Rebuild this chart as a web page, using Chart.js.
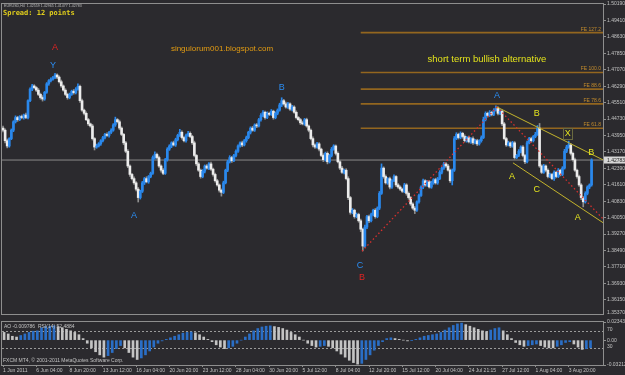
<!DOCTYPE html>
<html>
<head>
<meta charset="utf-8">
<title>EURUSD H4</title>
<script src="https://cdn.jsdelivr.net/npm/chart.js@4.4.1/dist/chart.umd.min.js"></script>
<style>
  html, body { margin: 0; padding: 0; background: #2b2a2e; }
  #wrap { position: relative; width: 625px; height: 375px; overflow: hidden; background: #2b2a2e; }
  #priceBox { position: absolute; left: 0; top: 0; width: 625px; height: 318px; }
  #aoBox { position: absolute; left: 0; top: 318px; width: 625px; height: 57px; }
</style>
</head>
<body>
<div id="wrap">
  <div id="priceBox"><canvas id="priceCanvas"></canvas></div>
  <div id="aoBox"><canvas id="aoCanvas"></canvas></div>
</div>
<script>
// EURUSD H4, 1 Jun - 4 Aug 2011. prices in points over 1.0000 (4420 = 1.4420)
var firstOpen = 4430;
var closes = [
  4420,4370,4345,4380,4420,4460,4480,4470,4485,4480,4492,4480,4560,4615,4630,4622,
  4610,4590,4575,4568,4600,4640,4655,4662,4670,4682,4672,4650,4630,4610,4590,4575,
  4590,4605,4598,4615,4628,4560,4515,4500,4470,4450,4440,4380,4340,4345,4355,4370,
  4385,4400,4395,4410,4420,4445,4470,4460,4430,4400,4360,4320,4250,4210,4190,4170,
  4140,4100,4130,4170,4190,4175,4200,4215,4290,4305,4290,4250,4230,4215,4280,4330,
  4345,4360,4350,4375,4395,4410,4385,4370,4395,4405,4390,4360,4300,4260,4230,4200,
  4225,4250,4240,4260,4235,4210,4180,4160,4135,4125,4170,4230,4270,4290,4275,4300,
  4320,4345,4360,4350,4370,4385,4410,4430,4420,4445,4440,4470,4490,4505,4480,4500,
  4495,4510,4480,4500,4515,4540,4560,4545,4530,4545,4520,4530,4505,4480,4470,4455,
  4450,4470,4440,4420,4380,4350,4340,4355,4330,4300,4280,4310,4270,4300,4330,4345,
  4310,4270,4240,4220,4230,4190,4100,4030,4040,4010,4020,3990,3950,3870,3960,4010,
  3990,4020,4040,4010,4050,4120,4240,4200,4170,4190,4150,4180,4200,4160,4150,4140,
  4130,4160,4120,4100,4070,4050,4040,4080,4110,4150,4180,4160,4175,4150,4170,4185,
  4170,4190,4220,4240,4260,4250,4230,4180,4230,4380,4400,4385,4405,4390,4370,4385,
  4365,4380,4360,4370,4355,4370,4385,4470,4500,4490,4505,4495,4515,4525,4500,4510,
  4450,4380,4350,4360,4345,4360,4290,4300,4320,4340,4300,4270,4360,4380,4370,4390,
  4400,4430,4250,4220,4250,4230,4200,4210,4190,4220,4200,4230,4210,4240,4320,4340,
  4350,4310,4280,4230,4200,4160,4100,4080,4120,4150,4160,4278.3
];
// wick beyond the body, in points
var hiPad = [
  10,6,8,4,6,5,8,6,4,7,5,9,4,6,8,6,
  5,8,6,9,4,6,5,7,6,8,5,6,8,5,7,6,
  6,5,8,7,12,6,8,5,7,6,4,8,5,9,6,5,
  6,5,8,4,7,6,12,5,8,6,5,7,8,6,5,9,
  6,8,5,7,6,9,5,6,8,12,6,7,5,8,6,7,
  6,5,8,7,6,14,7,5,6,9,7,6,8,5,7,6,
  8,5,7,6,8,5,6,7,5,6,8,5,7,9,6,5,
  7,6,5,8,6,7,5,6,8,5,7,6,9,8,6,7,
  6,8,5,7,6,8,14,6,8,7,5,8,6,7,5,6,
  8,6,7,5,6,8,5,7,6,5,8,6,7,5,8,6,
  5,7,6,8,5,7,9,6,8,5,7,6,8,5,9,6,
  7,6,5,8,6,9,20,6,8,5,7,6,8,5,7,6,
  5,8,6,7,5,6,8,5,7,6,8,5,7,6,8,5,
  7,6,8,5,7,6,8,5,6,10,8,6,7,5,8,6,
  7,5,8,6,7,5,8,12,7,6,8,5,7,11,6,8,
  5,7,6,8,5,7,6,5,8,6,7,5,8,6,7,5,
  10,12,22,6,8,5,7,6,5,7,6,8,5,7,9,8,
  18,7,6,8,5,7,6,5,8,6,5,6
];
var loPad = [
  8,10,9,6,5,7,6,8,5,6,8,5,6,5,7,6,
  7,6,8,10,6,5,7,6,5,6,8,6,7,5,6,8,
  6,5,7,6,5,8,6,7,5,8,6,7,14,6,5,7,
  6,7,5,8,6,5,7,6,8,6,9,7,8,10,6,7,
  8,21,7,6,8,5,7,6,5,8,6,7,9,6,5,7,
  6,8,5,7,6,5,8,6,7,5,6,8,7,9,6,8,
  6,8,5,7,6,8,7,6,9,18,6,5,7,6,8,5,
  7,5,6,8,5,7,6,8,5,6,8,5,7,6,8,5,
  6,5,8,6,7,5,8,6,5,7,6,8,5,7,6,8,
  5,7,6,8,6,9,7,5,8,6,9,7,10,6,7,5,
  8,6,7,5,8,6,10,9,7,8,6,7,12,23,6,8,
  9,6,7,8,6,7,5,8,6,7,9,6,5,8,6,7,
  6,7,9,8,7,6,16,6,7,5,8,6,7,5,6,7,
  6,7,5,8,6,7,5,8,20,6,5,7,6,8,6,7,
  6,8,7,5,8,6,7,5,6,8,5,7,6,5,7,6,
  8,6,7,5,8,6,7,5,6,8,7,9,6,5,7,6,
  6,5,7,6,5,8,7,6,5,8,6,5,7,6,5,7,
  6,8,7,6,8,7,10,24,6,7,8,6
];
var lastPrice = 1.42783;

// Awesome Oscillator, one value per two bars, in points
var aoValues = [
  100,80,50,40,60,80,100,115,120,160,175,180,185,175,160,140,
  120,100,70,20,-40,-100,-150,-190,-220,-200,-160,-110,-70,-100,-160,-220,
  -250,-230,-190,-140,-90,-40,-10,10,30,50,70,90,100,105,95,70,
  40,10,-20,-60,-90,-110,-100,-80,-40,0,40,80,120,150,170,180,
  185,175,165,150,130,100,70,40,0,-40,-70,-90,-80,-70,-80,-100,
  -140,-180,-220,-260,-290,-310,-300,-250,-190,-130,-70,-20,20,30,20,10,
  0,-10,-5,10,30,50,60,70,80,100,130,160,190,210,220,200,
  180,160,140,120,110,130,150,160,120,70,20,-30,-60,-80,-70,-60,
  -50,-70,-90,-100,-100,-80,-60,-30,-20,-50,-90,-120,-110,-98
];
// RSI(14), one value per two bars
var rsiValues = [
  72,64,66,70,74,76,78,76,72,69,71,74,76,70,66,62,
  60,56,48,42,36,31,28,34,44,50,53,55,48,38,28,23,
  27,36,44,40,50,54,50,55,58,60,58,57,59,55,45,36,
  44,50,42,34,30,40,48,52,58,62,66,68,70,72,74,75,
  76,72,70,67,63,61,60,58,50,44,40,36,32,33,38,40,
  38,34,30,28,22,17,15,30,40,48,56,58,55,54,50,46,
  42,40,44,50,53,55,57,58,60,62,60,66,75,70,66,64,
  66,68,70,69,72,75,76,70,48,44,45,42,46,50,52,54,
  55,40,36,38,36,40,45,56,55,45,38,33,38,52.49
];

var dateBars = [0,16,32,48,64,80,96,112,128,144,160,176,192,208,224,240,256,272];
var dateLabels = ['1 Jun 2011','6 Jun 04:00','8 Jun 20:00','13 Jun 12:00','16 Jun 04:00','20 Jun 20:00',
  '23 Jun 12:00','28 Jun 04:00','30 Jun 20:00','5 Jul 12:00','8 Jul 04:00','12 Jul 20:00',
  '15 Jul 12:00','20 Jul 04:00','24 Jul 21:15','27 Jul 12:00','1 Aug 04:00','3 Aug 20:00'];
var priceTicks = ['1.50190','1.49410','1.48630','1.47850','1.47070','1.46290','1.45510','1.44730',
  '1.43950','1.43170','1.42390','1.41610','1.40830','1.40050','1.39270','1.38490','1.37710',
  '1.36930','1.36150','1.35370'];
var aoTicks = [0.023434, 0, -0.032123];

// fibonacci expansion levels
var fibNames = ['FE 127.2','FE 100.0','FE 88.6','FE 78.6','FE 61.8'];
var fibLevels = [1.4883, 1.4694, 1.4615, 1.4545, 1.4429];
var fibFromBar = 172;

// wave marks: text, bar, price, degree
var waveText = ['A','Y','A','B','C','B','A','B','A','C','X','A','B'];
var waveBar = [25, 24, 63, 134, 171.6, 172.6, 237.5, 256.7, 244.7, 256.7, 271.6, 276.4, 282.8];
var wavePrice = [1.4814, 1.4726, 1.4013, 1.4623, 1.3776, 1.3720, 1.4586, 1.4497, 1.4199, 1.4139, 1.4404, 1.4004, 1.4316];
var waveDegree = ['red','blue','blue','blue','blue','red','blue','yellow','yellow','yellow','yellow','yellow','yellow'];

// trend lines: [bar, price] pairs
var channelTop = [[237.5, 1.4530], [288.5, 1.4279]];
var channelLow = [[245.2, 1.4265], [288.5, 1.3981]];
var redLegUp = [[172.6, 1.3845], [237.5, 1.4530]];
var redLegDown = [[237.5, 1.4530], [288.5, 1.3999]];

var frameColor = '#8e8e8e';
var axisText = '#c2c2c2';
var upColor = '#2a88ec';
var downColor = '#ececec';
var downWick = '#8f8f8f';
var degreeColors = { red: '#e02424', blue: '#2b8df2', yellow: '#e4e41e' };

Chart.defaults.font.family = '"Liberation Sans", Arial, sans-serif';
Chart.defaults.animation = false;

function pr(v) { return 1 + v / 10000; }
function pts(list) { return list.map(function (p) { return { x: p[0], y: p[1] }; }); }

var bodies = [], wicks = [], bodyColors = [], wickColors = [];
var open = firstOpen;
closes.forEach(function (c, i) {
  var up = c >= open;
  bodies.push({ x: i, y: [pr(open), pr(c)] });
  wicks.push({ x: i, y: [pr(Math.min(open, c) - loPad[i]), pr(Math.max(open, c) + hiPad[i])] });
  bodyColors.push(up ? upColor : downColor);
  wickColors.push(up ? upColor : downWick);
  open = c;
});

var lineSets = [];
fibLevels.forEach(function (lv) {
  lineSets.push({ type: 'line', data: [{ x: fibFromBar, y: lv }, { x: 288.5, y: lv }],
    borderColor: '#93661f', borderWidth: 1.6, pointRadius: 0, order: 3 });
});
lineSets.push({ type: 'line', data: [{ x: -0.5, y: lastPrice }, { x: 288.5, y: lastPrice }],
  borderColor: '#8a8a8a', borderWidth: 1, pointRadius: 0, order: 5 });
lineSets.push({ type: 'line', data: pts(channelTop), borderColor: '#c4b42c', borderWidth: 1, pointRadius: 0, order: 0 });
lineSets.push({ type: 'line', data: pts(channelLow), borderColor: '#c4b42c', borderWidth: 1, pointRadius: 0, order: 0 });
lineSets.push({ type: 'line', data: pts(redLegUp), borderColor: '#d8302e', borderWidth: 1.3, borderDash: [1.5, 2.5], pointRadius: 0, order: 0 });
lineSets.push({ type: 'line', data: pts(redLegDown), borderColor: '#d8302e', borderWidth: 1.3, borderDash: [1.5, 2.5], pointRadius: 0, order: 0 });

var priceOverlay = {
  id: 'priceOverlay',
  afterDraw: function (chart) {
    var ctx = chart.ctx, xs = chart.scales.x, ys = chart.scales.y, a = chart.chartArea;
    ctx.save();
    ctx.strokeStyle = frameColor;
    ctx.lineWidth = 1;
    ctx.strokeRect(a.left - 0.5, a.top - 0.5, a.right - a.left + 1, a.bottom - a.top + 1);

    // fibo labels
    ctx.font = '5px "Liberation Sans"';
    ctx.fillStyle = '#c48c2c';
    ctx.textAlign = 'right';
    ctx.textBaseline = 'bottom';
    fibLevels.forEach(function (lv, k) {
      ctx.fillText(fibNames[k], a.right - 2, ys.getPixelForValue(lv) - 1);
    });

    // bottom axis label sits on the frame
    ctx.textAlign = 'left';
    ctx.fillStyle = axisText;
    ctx.fillText(priceTicks[priceTicks.length - 1], a.right + 4, a.bottom + 1);

    // last price box
    var py = ys.getPixelForValue(lastPrice);
    ctx.fillStyle = '#d6d6d6';
    ctx.fillRect(a.right + 1, py - 3.5, 24, 7);
    ctx.fillStyle = '#1e1e1e';
    ctx.textBaseline = 'middle';
    ctx.fillText(lastPrice.toFixed(5), a.right + 4, py + 0.5);

    // header
    ctx.fillStyle = '#bdbdbd';
    ctx.font = '3.6px "Liberation Sans"';
    ctx.fillText('EURUSD,H4  1.42559 1.42965 1.41477 1.42783', 4, 6);
    ctx.fillStyle = '#e2cf1c';
    ctx.font = 'bold 7px "DejaVu Sans Mono"';
    ctx.fillText('Spread: 12 points', 3, 13);

    // notes
    ctx.textAlign = 'center';
    ctx.font = '8px "Liberation Sans"';
    ctx.fillStyle = '#e39c12';
    ctx.fillText('singulorum001.blogspot.com', xs.getPixelForValue(105.3), ys.getPixelForValue(1.4805));
    ctx.font = '9.5px "Liberation Sans"';
    ctx.fillStyle = '#e2e21c';
    ctx.fillText('short term bullish alternative', xs.getPixelForValue(232.7), ys.getPixelForValue(1.4754));

    // wave counts
    ctx.font = '9px "Liberation Sans"';
    waveText.forEach(function (t, k) {
      ctx.fillStyle = degreeColors[waveDegree[k]];
      ctx.fillText(t, xs.getPixelForValue(waveBar[k]), ys.getPixelForValue(wavePrice[k]));
    });
    // the X mark is a selected object in the terminal
    var k = waveText.indexOf('X');
    ctx.strokeStyle = '#6a6a40';
    ctx.strokeRect(Math.round(xs.getPixelForValue(waveBar[k])) - 4.5, Math.round(ys.getPixelForValue(wavePrice[k])) - 5.5, 9, 11);
    ctx.restore();
  }
};

new Chart(document.getElementById('priceCanvas'), {
  type: 'bar',
  data: {
    datasets: [
      { data: bodies, backgroundColor: bodyColors, barThickness: 2, grouped: false, order: 1 },
      { data: wicks, backgroundColor: wickColors, barThickness: 1, grouped: false, order: 2 }
    ].concat(lineSets)
  },
  options: {
    responsive: true,
    maintainAspectRatio: false,
    layout: { padding: { left: 2, top: 1, bottom: 1, right: 0 } },
    plugins: { legend: { display: false }, tooltip: { enabled: false } },
    scales: {
      x: { type: 'linear', display: false, min: -0.5, max: 288.5, offset: false, grid: { offset: false } },
      y: {
        position: 'right',
        min: 1.35474,
        max: 1.5019,
        afterBuildTicks: function (s) {
          s.ticks = priceTicks.slice(0, -1).map(function (t) { return { value: parseFloat(t) }; });
        },
        afterFit: function (s) { s.width = 22; },
        ticks: { color: axisText, font: { size: 5 }, padding: 1,
          callback: function (v) { return v.toFixed(5); } },
        grid: { drawOnChartArea: false, color: frameColor, tickLength: 3 },
        border: { color: frameColor }
      }
    }
  },
  plugins: [priceOverlay]
});

// indicator window
var aoBars = aoValues.map(function (v, j) { return { x: 2 * j + 0.5, y: v / 10000 }; });
var aoColors = aoValues.map(function (v, j) { return j > 0 && v > aoValues[j - 1] ? '#2a6ec6' : '#c4c4c4'; });
var rsiLine = rsiValues.map(function (v, j) { return { x: 2 * j + 0.5, y: v }; });

var aoOverlay = {
  id: 'aoOverlay',
  beforeDatasetsDraw: function (chart) {
    var ctx = chart.ctx, rs = chart.scales.rsi, a = chart.chartArea;
    ctx.save();
    ctx.strokeStyle = '#9a9a9a';
    ctx.lineWidth = 1;
    ctx.setLineDash([2, 2]);
    [70, 30].forEach(function (lv) {
      var y = Math.round(rs.getPixelForValue(lv)) + 0.5;
      ctx.beginPath();
      ctx.moveTo(a.left, y);
      ctx.lineTo(a.right, y);
      ctx.stroke();
    });
    ctx.restore();
  },
  afterDraw: function (chart) {
    var ctx = chart.ctx, rs = chart.scales.rsi, a = chart.chartArea;
    ctx.save();
    ctx.strokeStyle = frameColor;
    ctx.lineWidth = 1;
    ctx.strokeRect(a.left - 0.5, a.top - 0.5, a.right - a.left + 1, a.bottom - a.top + 1);
    ctx.font = '5px "Liberation Sans"';
    ctx.fillStyle = axisText;
    ctx.textAlign = 'left';
    ctx.textBaseline = 'middle';
    [70, 30].forEach(function (lv) {
      ctx.fillText(String(lv), a.right + 4, rs.getPixelForValue(lv) - 1);
    });
    ctx.fillText('AO -0.009786  RSI(14) 52.4884', 4, a.top + 5);
    ctx.fillText('FXCM MT4, \u00a9 2001-2011 MetaQuotes Software Corp.', 3, a.bottom - 4);
    ctx.restore();
  }
};

new Chart(document.getElementById('aoCanvas'), {
  type: 'bar',
  data: {
    datasets: [
      { type: 'line', data: rsiLine, yAxisID: 'rsi', borderColor: '#d41c1c', borderWidth: 1,
        pointRadius: 0, order: 0 },
      { data: aoBars, yAxisID: 'y', backgroundColor: aoColors, barThickness: 2, grouped: false, order: 1 }
    ]
  },
  options: {
    responsive: true,
    maintainAspectRatio: false,
    layout: { padding: { left: 2, top: 3, bottom: 0, right: 0 } },
    plugins: { legend: { display: false }, tooltip: { enabled: false } },
    scales: {
      x: {
        type: 'linear', min: -0.5, max: 288.5, offset: false,
        afterBuildTicks: function (s) {
          s.ticks = dateBars.map(function (b) { return { value: b }; });
        },
        afterFit: function (s) { s.height = 10; },
        ticks: { color: axisText, font: { size: 5 }, align: 'start', padding: 1,
          maxRotation: 0, autoSkip: false,
          callback: function (v) { return dateLabels[dateBars.indexOf(v)]; } },
        grid: { drawOnChartArea: false, color: frameColor, tickLength: 2, offset: false },
        border: { color: frameColor }
      },
      y: {
        position: 'right',
        min: -0.032123,
        max: 0.023434,
        afterBuildTicks: function (s) {
          s.ticks = aoTicks.map(function (v) { return { value: v }; });
        },
        afterFit: function (s) { s.width = 22; },
        ticks: { color: axisText, font: { size: 5 }, padding: 1,
          callback: function (v) { return v === 0 ? '0.00' : v.toFixed(6); } },
        grid: { drawOnChartArea: false, color: frameColor, tickLength: 3 },
        border: { color: frameColor }
      },
      rsi: { display: false, min: 0, max: 100 }
    }
  },
  plugins: [aoOverlay]
});
</script>
</body>
</html>
